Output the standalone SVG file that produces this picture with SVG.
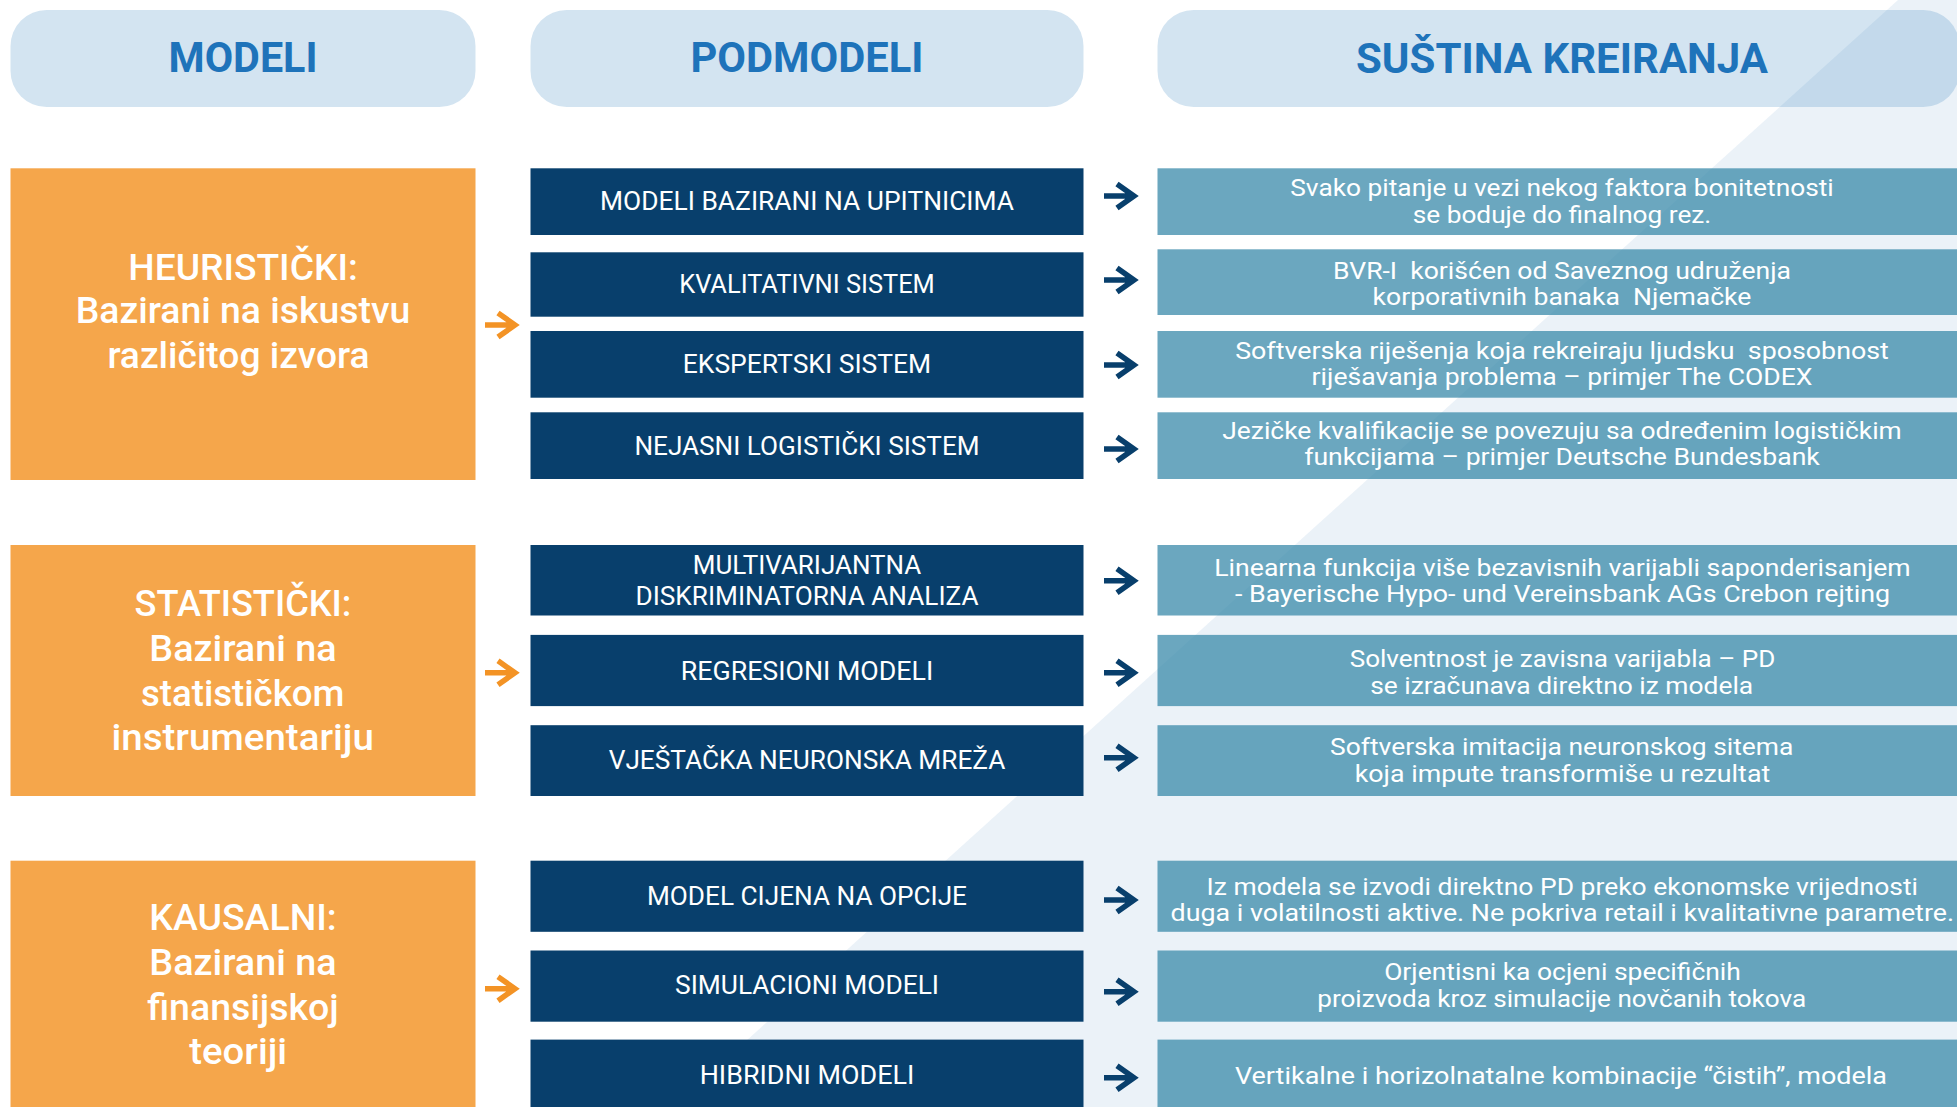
<svg xmlns="http://www.w3.org/2000/svg" xmlns:xlink="http://www.w3.org/1999/xlink" width="1957" height="1107" viewBox="0 0 1957 1107">
<style>
text{font-family:Roboto,"Liberation Sans","DejaVu Sans",sans-serif;text-anchor:middle;white-space:pre;fill:#ffffff}
.hb{fill:#2378B9;fill-opacity:0.2}
.ht{font-weight:700;font-size:42px;fill:#1E73BA}
.ob{fill:#F5A64B}
.ot{font-weight:500;font-size:36px}
.db{fill:#083F6C}
.dt{font-size:25.5px}
.tb{fill:#3A8AAA;fill-opacity:0.75}
.tt{font-size:24px}
.arr{fill:none;stroke-width:5.5;stroke-linejoin:miter;stroke-linecap:butt}
.ad{stroke:#083F6C}
.ao{stroke:#F39325}
</style>
<defs>
<path id="arrow" d="M-35,0 H-6 M-22,-12 L-5,0 L-22,12"/>
</defs>
<rect x="0" y="0" width="1957" height="1107" fill="#ffffff"/>
<polygon id="band" points="1898,0 1957,0 1957,1107 673,1107" fill="#4A86C0" fill-opacity="0.11"/>

<g id="header-modeli">
<rect class="hb" x="10.5" y="10" width="465" height="97" rx="36" ry="36"/>
<text class="ht" x="243" y="72" textLength="149" lengthAdjust="spacingAndGlyphs">MODELI</text>
</g>
<g id="header-podmodeli">
<rect class="hb" x="530.5" y="10" width="553" height="97" rx="36" ry="36"/>
<text class="ht" x="807" y="72" textLength="233" lengthAdjust="spacingAndGlyphs">PODMODELI</text>
</g>
<g id="header-sustina">
<rect class="hb" x="1157.5" y="10" width="802" height="97" rx="36" ry="36"/>
<text class="ht" x="1562" y="73" textLength="412" lengthAdjust="spacingAndGlyphs">SUŠTINA KREIRANJA</text>
</g>

<g id="model-heuristicki">
<rect class="ob" x="10.5" y="168.3" width="465" height="311.7"/>
<text class="ot" x="243" y="279.5" textLength="229.5" lengthAdjust="spacingAndGlyphs">HEURISTIČKI:</text>
<text class="ot" x="243" y="323" textLength="334.7" lengthAdjust="spacingAndGlyphs">Bazirani na iskustvu</text>
<text class="ot" x="238.5" y="367.5" textLength="262.2" lengthAdjust="spacingAndGlyphs">različitog izvora</text>
</g>
<g id="model-statisticki">
<rect class="ob" x="10.5" y="545" width="465" height="251"/>
<text class="ot" x="243" y="616" textLength="216.8" lengthAdjust="spacingAndGlyphs">STATISTIČKI:</text>
<text class="ot" x="243" y="661" textLength="187.3" lengthAdjust="spacingAndGlyphs">Bazirani na</text>
<text class="ot" x="242.7" y="706" textLength="203.3" lengthAdjust="spacingAndGlyphs">statističkom</text>
<text class="ot" x="242.7" y="750" textLength="262.3" lengthAdjust="spacingAndGlyphs">instrumentariju</text>
</g>
<g id="model-kausalni">
<rect class="ob" x="10.5" y="860.7" width="465" height="246.3"/>
<text class="ot" x="243" y="930" textLength="187.3" lengthAdjust="spacingAndGlyphs">KAUSALNI:</text>
<text class="ot" x="243" y="975" textLength="187.3" lengthAdjust="spacingAndGlyphs">Bazirani na</text>
<text class="ot" x="243" y="1019.5" textLength="191.6" lengthAdjust="spacingAndGlyphs">finansijskoj</text>
<text class="ot" x="238.2" y="1064" textLength="97.7" lengthAdjust="spacingAndGlyphs">teoriji</text>
</g>

<g id="sub-upitnici">
<rect class="db" x="530.5" y="168.3" width="553" height="66.7"/>
<text class="dt" x="807" y="210" textLength="414" lengthAdjust="spacingAndGlyphs">MODELI BAZIRANI NA UPITNICIMA</text>
</g>
<g id="sub-kvalitativni">
<rect class="db" x="530.5" y="252.3" width="553" height="64.4"/>
<text class="dt" x="807" y="293.3" textLength="255.6" lengthAdjust="spacingAndGlyphs">KVALITATIVNI SISTEM</text>
</g>
<g id="sub-ekspertski">
<rect class="db" x="530.5" y="331" width="553" height="66.7"/>
<text class="dt" x="807" y="372.7" textLength="248.4" lengthAdjust="spacingAndGlyphs">EKSPERTSKI SISTEM</text>
</g>
<g id="sub-nejasni">
<rect class="db" x="530.5" y="412.3" width="553" height="66.7"/>
<text class="dt" x="807" y="455" textLength="345.2" lengthAdjust="spacingAndGlyphs">NEJASNI LOGISTIČKI SISTEM</text>
</g>
<g id="sub-mda">
<rect class="db" x="530.5" y="545" width="553" height="70.5"/>
<text class="dt" x="807" y="573.5" textLength="228.5" lengthAdjust="spacingAndGlyphs">MULTIVARIJANTNA</text>
<text class="dt" x="807" y="605.4" textLength="343" lengthAdjust="spacingAndGlyphs">DISKRIMINATORNA ANALIZA</text>
</g>
<g id="sub-regresioni">
<rect class="db" x="530.5" y="634.9" width="553" height="71.2"/>
<text class="dt" x="807" y="680" textLength="252.6" lengthAdjust="spacingAndGlyphs">REGRESIONI MODELI</text>
</g>
<g id="sub-neuronska">
<rect class="db" x="530.5" y="725.2" width="553" height="70.8"/>
<text class="dt" x="807" y="769" textLength="396.6" lengthAdjust="spacingAndGlyphs">VJEŠTAČKA NEURONSKA MREŽA</text>
</g>
<g id="sub-opcije">
<rect class="db" x="530.5" y="860.7" width="553" height="71.1"/>
<text class="dt" x="807" y="905" textLength="320" lengthAdjust="spacingAndGlyphs">MODEL CIJENA NA OPCIJE</text>
</g>
<g id="sub-simulacioni">
<rect class="db" x="530.5" y="950.5" width="553" height="71.2"/>
<text class="dt" x="807" y="994.4" textLength="264" lengthAdjust="spacingAndGlyphs">SIMULACIONI MODELI</text>
</g>
<g id="sub-hibridni">
<rect class="db" x="530.5" y="1039.6" width="553" height="67.4"/>
<text class="dt" x="807" y="1084.2" textLength="214.7" lengthAdjust="spacingAndGlyphs">HIBRIDNI MODELI</text>
</g>

<g id="desc-upitnici">
<rect class="tb" x="1157.5" y="168.3" width="800" height="66.7"/>
<text class="tt" x="1562" y="196" textLength="543.5" lengthAdjust="spacingAndGlyphs">Svako pitanje u vezi nekog faktora bonitetnosti</text>
<text class="tt" x="1562" y="222.5" textLength="298.5" lengthAdjust="spacingAndGlyphs">se boduje do finalnog rez.</text>
</g>
<g id="desc-kvalitativni">
<rect class="tb" x="1157.5" y="249.3" width="800" height="65.7"/>
<text class="tt" x="1562" y="278.5" textLength="458" lengthAdjust="spacingAndGlyphs">BVR-I  korišćen od Saveznog udruženja</text>
<text class="tt" x="1562" y="305" textLength="378.8" lengthAdjust="spacingAndGlyphs">korporativnih banaka  Njemačke</text>
</g>
<g id="desc-ekspertski">
<rect class="tb" x="1157.5" y="331" width="800" height="66.7"/>
<text class="tt" x="1562" y="358.5" textLength="653.7" lengthAdjust="spacingAndGlyphs">Softverska riješenja koja rekreiraju ljudsku  sposobnost</text>
<text class="tt" x="1562" y="385" textLength="500.8" lengthAdjust="spacingAndGlyphs">riješavanja problema – primjer The CODEX</text>
</g>
<g id="desc-nejasni">
<rect class="tb" x="1157.5" y="412.3" width="800" height="66.7"/>
<text class="tt" x="1562" y="438.5" textLength="679.5" lengthAdjust="spacingAndGlyphs">Jezičke kvalifikacije se povezuju sa određenim logističkim</text>
<text class="tt" x="1562" y="465" textLength="515.7" lengthAdjust="spacingAndGlyphs">funkcijama – primjer Deutsche Bundesbank</text>
</g>
<g id="desc-mda">
<rect class="tb" x="1157.5" y="545" width="800" height="70.5"/>
<text class="tt" x="1562.5" y="576" textLength="696.4" lengthAdjust="spacingAndGlyphs">Linearna funkcija više bezavisnih varijabli saponderisanjem</text>
<text class="tt" x="1562.5" y="602" textLength="655.2" lengthAdjust="spacingAndGlyphs">- Bayerische Hypo- und Vereinsbank AGs Crebon rejting</text>
</g>
<g id="desc-regresioni">
<rect class="tb" x="1157.5" y="634.9" width="800" height="71.2"/>
<text class="tt" x="1562.5" y="667" textLength="425.7" lengthAdjust="spacingAndGlyphs">Solventnost je zavisna varijabla – PD</text>
<text class="tt" x="1561.7" y="693.5" textLength="383" lengthAdjust="spacingAndGlyphs">se izračunava direktno iz modela</text>
</g>
<g id="desc-neuronska">
<rect class="tb" x="1157.5" y="725.2" width="800" height="70.8"/>
<text class="tt" x="1561.7" y="755" textLength="463.3" lengthAdjust="spacingAndGlyphs">Softverska imitacija neuronskog sitema</text>
<text class="tt" x="1562.5" y="781.5" textLength="415.4" lengthAdjust="spacingAndGlyphs">koja impute transformiše u rezultat</text>
</g>
<g id="desc-opcije">
<rect class="tb" x="1157.5" y="860.7" width="800" height="71.1"/>
<text class="tt" x="1562.3" y="894.5" textLength="711.4" lengthAdjust="spacingAndGlyphs">Iz modela se izvodi direktno PD preko ekonomske vrijednosti</text>
<text class="tt" x="1562.3" y="921" textLength="783.4" lengthAdjust="spacingAndGlyphs">duga i volatilnosti aktive. Ne pokriva retail i kvalitativne parametre.</text>
</g>
<g id="desc-simulacioni">
<rect class="tb" x="1157.5" y="950.5" width="800" height="71.2"/>
<text class="tt" x="1562.5" y="980" textLength="356.7" lengthAdjust="spacingAndGlyphs">Orjentisni ka ocjeni specifičnih</text>
<text class="tt" x="1561.7" y="1006.5" textLength="488.9" lengthAdjust="spacingAndGlyphs">proizvoda kroz simulacije novčanih tokova</text>
</g>
<g id="desc-hibridni">
<rect class="tb" x="1157.5" y="1039.6" width="800" height="67.4"/>
<text class="tt" x="1561" y="1083.5" textLength="652.1" lengthAdjust="spacingAndGlyphs">Vertikalne i horizolnatalne kombinacije “čistih”, modela</text>
</g>

<g id="connectors" class="arr">
<use xlink:href="#arrow" href="#arrow" class="ao" x="520" y="325"/>
<use xlink:href="#arrow" href="#arrow" class="ao" x="520" y="672.8"/>
<use xlink:href="#arrow" href="#arrow" class="ao" x="520" y="988.7"/>
<use xlink:href="#arrow" href="#arrow" class="ad" x="1139" y="196"/>
<use xlink:href="#arrow" href="#arrow" class="ad" x="1139" y="280"/>
<use xlink:href="#arrow" href="#arrow" class="ad" x="1139" y="365"/>
<use xlink:href="#arrow" href="#arrow" class="ad" x="1139" y="449"/>
<use xlink:href="#arrow" href="#arrow" class="ad" x="1139" y="580.7"/>
<use xlink:href="#arrow" href="#arrow" class="ad" x="1139" y="672.8"/>
<use xlink:href="#arrow" href="#arrow" class="ad" x="1139" y="757.7"/>
<use xlink:href="#arrow" href="#arrow" class="ad" x="1139" y="900"/>
<use xlink:href="#arrow" href="#arrow" class="ad" x="1139" y="991.7"/>
<use xlink:href="#arrow" href="#arrow" class="ad" x="1139" y="1077.8"/>
</g>
</svg>
